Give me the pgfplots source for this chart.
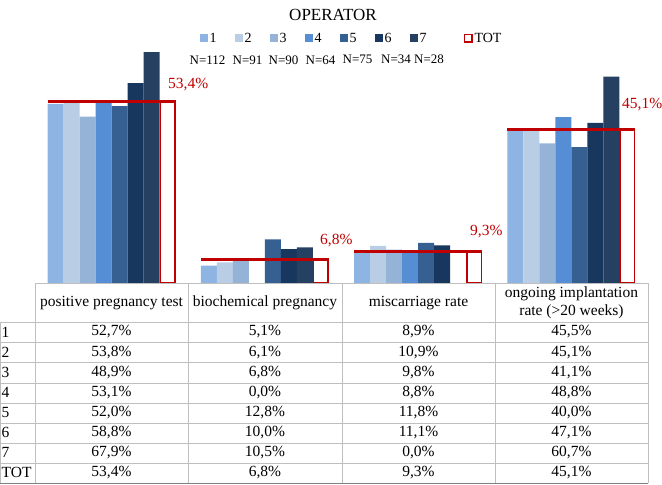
\documentclass[border=0pt]{standalone}
\usepackage{fontspec}
\setmainfont{Liberation Serif}
\usepackage{pgfplots}
\pgfplotsset{compat=1.18}
\definecolor{s1}{HTML}{8EB4E3}
\definecolor{s2}{HTML}{B9CDE5}
\definecolor{s3}{HTML}{95B3D7}
\definecolor{s4}{HTML}{558ED5}
\definecolor{s5}{HTML}{376092}
\definecolor{s6}{HTML}{17375E}
\definecolor{s7}{HTML}{254061}
\definecolor{tot}{HTML}{C00000}
\definecolor{gridc}{HTML}{BFBFBF}
\newcommand{\trow}[5]{%
  \node at (111.5,#1) {#2};
  \node at (265,#1) {#3};
  \node at (418.5,#1) {#4};
  \node at (571.5,#1) {#5};}
\begin{document}
\begin{tikzpicture}[font=\fontsize{15.5bp}{18bp}\selectfont]
\useasboundingbox (0,0) rectangle (662bp,-485bp);
\begin{axis}[at={(35bp,-283bp)}, anchor=south west, scale only axis,
  width=613bp, height=244.8bp, xmin=-0.5, xmax=3.5, ymin=0, ymax=72,
  hide axis, clip=false, bar width=16bp,
  legend columns=8,
  legend style={at={(0.5165,1)}, anchor=center, draw=none, fill=none, inner sep=0pt,
    font=\fontsize{14bp}{16bp}\selectfont,
    /tikz/every even column/.append style={column sep=16bp}},
  legend cell align=left]
\addplot[ybar, bar shift=-56bp, fill=s1, draw=none,
  legend image code/.code={\fill[s1] (0bp,-4bp) rectangle (8bp,4bp);}]
  coordinates {(0,52.7) (1,5.1) (2,8.9) (3,45.5)};
\addlegendentry{1}
\addplot[ybar, bar shift=-40bp, fill=s2, draw=none,
  legend image code/.code={\fill[s2] (0bp,-4bp) rectangle (8bp,4bp);}]
  coordinates {(0,53.8) (1,6.1) (2,10.9) (3,45.1)};
\addlegendentry{2}
\addplot[ybar, bar shift=-24bp, fill=s3, draw=none,
  legend image code/.code={\fill[s3] (0bp,-4bp) rectangle (8bp,4bp);}]
  coordinates {(0,48.9) (1,6.8) (2,9.8) (3,41.1)};
\addlegendentry{3}
\addplot[ybar, bar shift=-8bp, fill=s4, draw=none,
  legend image code/.code={\fill[s4] (0bp,-4bp) rectangle (8bp,4bp);}]
  coordinates {(0,53.1) (1,0.0) (2,8.8) (3,48.8)};
\addlegendentry{4}
\addplot[ybar, bar shift=8bp, fill=s5, draw=none,
  legend image code/.code={\fill[s5] (0bp,-4bp) rectangle (8bp,4bp);}]
  coordinates {(0,52.0) (1,12.8) (2,11.8) (3,40.0)};
\addlegendentry{5}
\addplot[ybar, bar shift=24bp, fill=s6, draw=none,
  legend image code/.code={\fill[s6] (0bp,-4bp) rectangle (8bp,4bp);}]
  coordinates {(0,58.8) (1,10.0) (2,11.1) (3,47.1)};
\addlegendentry{6}
\addplot[ybar, bar shift=40bp, fill=s7, draw=none,
  legend image code/.code={\fill[s7] (0bp,-4bp) rectangle (8bp,4bp);}]
  coordinates {(0,67.9) (1,10.5) (2,0.0) (3,60.7)};
\addlegendentry{\makebox[26bp][l]{7}}
\addplot[ybar, bar shift=56bp, bar width=14.5bp, fill=white, draw=tot, line width=1.5bp,
  legend image code/.code={\draw[tot, fill=white, line width=1.5bp] (0.75bp,-3.75bp) rectangle (8.25bp,3.75bp);}]
  coordinates {(0,53.4) (1,6.8) (2,9.3) (3,45.1)};
\addlegendentry{TOT}
\addplot[tot, line width=3bp, no marks, forget plot] coordinates {(-0.4176,53.4) (0.4176,53.4)};
\addplot[tot, line width=3bp, no marks, forget plot] coordinates {(0.5824,6.8) (1.4176,6.8)};
\addplot[tot, line width=3bp, no marks, forget plot] coordinates {(1.5824,9.3) (2.4176,9.3)};
\addplot[tot, line width=3bp, no marks, forget plot] coordinates {(2.5824,45.1) (3.4176,45.1)};
\end{axis}
\node at (333bp,-15bp) {\fontsize{17bp}{20bp}\selectfont OPERATOR};
\begin{scope}[font=\fontsize{13bp}{15bp}\selectfont]
\node at (207.5bp,-60bp) {N=112};
\node at (247.5bp,-60bp) {N=91};
\node at (283.5bp,-60bp) {N=90};
\node at (320.5bp,-60bp) {N=64};
\node at (357.5bp,-59bp) {N=75};
\node at (396bp,-59bp) {N=34};
\node at (429bp,-59bp) {N=28};
\end{scope}
\begin{scope}[every node/.style={text=tot, anchor=west, inner sep=0pt}]
\node at (168bp,-85bp) {53,4\%};
\node at (320bp,-241bp) {6,8\%};
\node at (470bp,-232bp) {9,3\%};
\node at (622bp,-105bp) {45,1\%};
\end{scope}
\begin{scope}[x=1bp, y=-1bp]
\draw[gridc, line width=0.75bp] (35,283) -- (648,283);
\foreach \yy in {322,342,362,383,403,423,443,463}
  \draw[gridc, line width=0.75bp] (0,\yy) -- (648,\yy);
\draw[gray, line width=0.9bp] (0,483) -- (648,483);
\draw[gridc, line width=0.75bp] (0,322) -- (0,483);
\foreach \xx in {35,188,342,495,648}
  \draw[gridc, line width=0.75bp] (\xx,283) -- (\xx,483);
\node at (111.5,303) {positive pregnancy test};
\node at (265,303) {biochemical pregnancy};
\node at (418.5,303) {miscarriage rate};
\node[align=center] at (571.5,302.5) {ongoing implantation\\rate (>20 weeks)};
\foreach \lab [count=\i] in {1,2,3,4,5,6,7,TOT}
  \node[anchor=west, inner sep=1.5bp] at (0,{332+20.1*(\i-1)}) {\lab};
\trow{332}{52,7\%}{5,1\%}{8,9\%}{45,5\%}
\trow{352.1}{53,8\%}{6,1\%}{10,9\%}{45,1\%}
\trow{372.2}{48,9\%}{6,8\%}{9,8\%}{41,1\%}
\trow{392.3}{53,1\%}{0,0\%}{8,8\%}{48,8\%}
\trow{412.4}{52,0\%}{12,8\%}{11,8\%}{40,0\%}
\trow{432.5}{58,8\%}{10,0\%}{11,1\%}{47,1\%}
\trow{452.6}{67,9\%}{10,5\%}{0,0\%}{60,7\%}
\trow{472.7}{53,4\%}{6,8\%}{9,3\%}{45,1\%}
\end{scope}
\end{tikzpicture}
\end{document}
